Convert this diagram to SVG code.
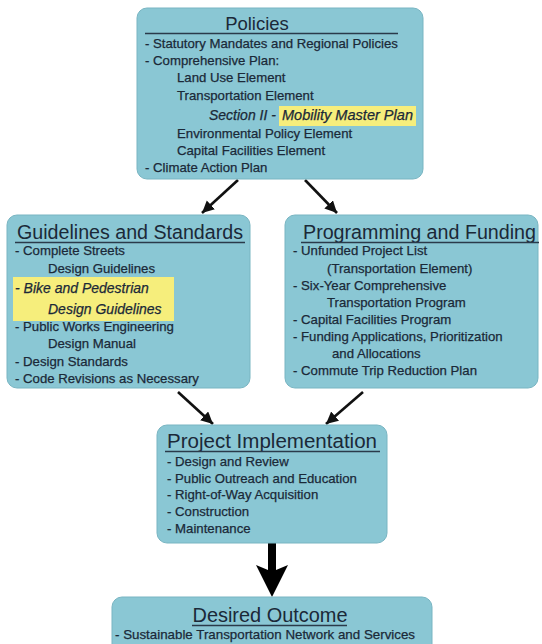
<svg xmlns="http://www.w3.org/2000/svg" width="542" height="644" viewBox="0 0 542 644">
<defs>
<style>
.box{fill:#8ac7d4;stroke:#79b5c2;stroke-width:1}
.t{font-family:"Liberation Sans",Arial,sans-serif;font-size:13.2px;fill:#1b2938;stroke:#1b2938;stroke-width:0.25}
.it{font-style:italic;font-size:14px}
.h{font-family:"Liberation Sans",Arial,sans-serif;fill:#1b2938}
.ul{stroke:#2a3a4a;stroke-width:1.5}
.hl{fill:#f6ee7c}
.arr{stroke:#111;stroke-width:2.6;fill:none;marker-end:url(#ah)}
</style>
<marker id="ah" markerUnits="userSpaceOnUse" markerWidth="14" markerHeight="14" refX="12" refY="6" orient="auto">
<path d="M0,0 L12,6 L0,12 z" fill="#111"/>
</marker>
</defs>
<rect width="542" height="644" fill="#ffffff"/>

<g id="connectors">
<line class="arr" x1="238" y1="180" x2="202" y2="213"/>
<line class="arr" x1="305" y1="180" x2="337" y2="213"/>
<line class="arr" x1="178" y1="392" x2="213" y2="424"/>
<line class="arr" x1="363" y1="392" x2="326" y2="424"/>
<polygon points="268,543 276,543 276,570 288,565 272,597 256,565 268,570" fill="#000"/>
</g>

<g id="policies">
<rect class="box" x="137" y="8" width="286" height="171" rx="10"/>
<text class="h" x="257" y="30" font-size="18.5" text-anchor="middle">Policies</text>
<line class="ul" x1="145" y1="33.5" x2="398" y2="33.5"/>
<text class="t" x="145" y="48">- Statutory Mandates and Regional Policies</text>
<text class="t" x="145" y="65">- Comprehensive Plan:</text>
<text class="t" x="177" y="82">Land Use Element</text>
<text class="t" x="177" y="100">Transportation Element</text>
<rect class="hl" x="279" y="106" width="137" height="20"/>
<text class="t it" x="209" y="120">Section II - </text>
<text class="t it" x="282" y="120" textLength="131" lengthAdjust="spacingAndGlyphs">Mobility Master Plan</text>
<text class="t" x="177" y="138">Environmental Policy Element</text>
<text class="t" x="177" y="155">Capital Facilities Element</text>
<text class="t" x="145" y="172">- Climate Action Plan</text>
</g>

<g id="guidelines">
<rect class="box" x="7" y="215" width="243" height="173" rx="10"/>
<text class="h" x="17" y="239" font-size="20" textLength="226" lengthAdjust="spacingAndGlyphs">Guidelines and Standards</text>
<line class="ul" x1="15" y1="242.5" x2="245" y2="242.5"/>
<text class="t" x="15" y="255">- Complete Streets</text>
<text class="t" x="48" y="273">Design Guidelines</text>
<rect class="hl" x="13" y="277" width="161" height="44"/>
<text class="t it" x="15" y="293">- Bike and Pedestrian</text>
<text class="t it" x="48" y="314">Design Guidelines</text>
<text class="t" x="15" y="331">- Public Works Engineering</text>
<text class="t" x="48" y="348">Design Manual</text>
<text class="t" x="15" y="366">- Design Standards</text>
<text class="t" x="15" y="383">- Code Revisions as Necessary</text>
</g>

<g id="programming">
<rect class="box" x="285" y="215" width="253" height="173" rx="10"/>
<text class="h" x="303" y="239" font-size="20" textLength="233" lengthAdjust="spacingAndGlyphs">Programming and Funding</text>
<line class="ul" x1="301" y1="242.5" x2="539" y2="242.5"/>
<text class="t" x="293" y="255">- Unfunded Project List</text>
<text class="t" x="327" y="273">(Transportation Element)</text>
<text class="t" x="293" y="290">- Six-Year Comprehensive</text>
<text class="t" x="327" y="307">Transportation Program</text>
<text class="t" x="293" y="324">- Capital Facilities Program</text>
<text class="t" x="293" y="341">- Funding Applications, Prioritization</text>
<text class="t" x="332" y="358">and Allocations</text>
<text class="t" x="293" y="375">- Commute Trip Reduction Plan</text>
</g>

<g id="implementation">
<rect class="box" x="157" y="425" width="230" height="118" rx="10"/>
<text class="h" x="167" y="448" font-size="20" textLength="210" lengthAdjust="spacingAndGlyphs">Project Implementation</text>
<line class="ul" x1="165" y1="451.5" x2="380" y2="451.5"/>
<text class="t" x="167" y="466">- Design and Review</text>
<text class="t" x="167" y="483">- Public Outreach and Education</text>
<text class="t" x="167" y="499">- Right-of-Way Acquisition</text>
<text class="t" x="167" y="516">- Construction</text>
<text class="t" x="167" y="533">- Maintenance</text>
</g>

<g id="outcome">
<rect class="box" x="112" y="597" width="320" height="60" rx="10"/>
<text class="h" x="270" y="622" font-size="20" text-anchor="middle" textLength="155" lengthAdjust="spacingAndGlyphs">Desired Outcome</text>
<line class="ul" x1="192" y1="625.5" x2="347" y2="625.5"/>
<text class="t" x="115" y="639" textLength="300" lengthAdjust="spacingAndGlyphs">- Sustainable Transportation Network and Services</text>
</g>
</svg>
